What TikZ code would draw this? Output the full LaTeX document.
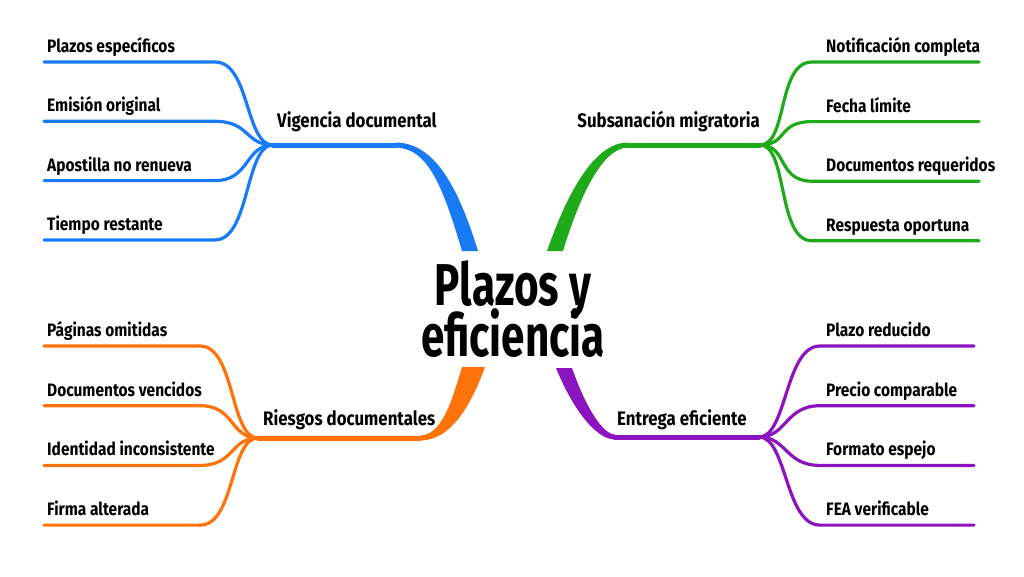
\documentclass[tikz,border=0pt]{standalone}
\usepackage{fontspec}
\setmainfont{Fira Sans}
\newfontfamily\leaffont[FakeStretch=0.86]{Fira Sans}
\newfontfamily\titlefont[FakeStretch=0.716]{Fira Sans}
\definecolor{vblue}{RGB}{24,122,245}
\definecolor{sgreen}{RGB}{30,170,25}
\definecolor{rorange}{RGB}{255,115,10}
\definecolor{epurple}{RGB}{140,20,190}
\tikzset{
    leaf/.style={font={\leaffont\bfseries\fontsize{18}{20}\selectfont}, anchor=base west, inner sep=0pt},
    branch/.style={leaf, font={\leaffont\bfseries\fontsize{19.6}{22}\selectfont}},
    title/.style={font={\titlefont\bfseries\fontsize{59}{59}\selectfont}, anchor=base, inner sep=0pt},
    twig/.style={line width=3.2pt, line cap=round},
    trunk/.style={line width=5pt, line cap=round},
}

\begin{document}
\begin{tikzpicture}[x=1pt,y=-1pt]
    \useasboundingbox (0,0) rectangle (1024,576);
    \node[title] (plazos) at (513,305) {Plazos y};
    \node[title] (eficiencia) at (513,356) {eficiencia};

    \coordinate (vigj) at (273,145);
    \coordinate (vigt) at (395,145);
    \node[branch] (vigencia) at (277,127) {Vigencia documental};
    \draw[trunk,vblue] (vigj) -- (vigt);
    \fill[vblue] (395,142.5) .. controls (433,142.5) and (457,183) .. (478,251)
        -- (462,251) .. controls (443,187) and (428,147.5) .. (395,147.5) -- cycle;
    \foreach \t [count=\i] in {Plazos específicos,Emisión original,Apostilla no renueva,Tiempo restante}{
        \pgfmathsetmacro\y{62+59.3*(\i-1)}
        \node[leaf] (vig\i) at (47,\y-9.5) {\t};
        \coordinate (vig\i a) at (44,\y);
        \coordinate (vig\i b) at (215,\y);
        \draw[twig,vblue] (vig\i a) -- (vig\i b) .. controls +(35,0) and +(-28,0) .. (vigj);
    }

    \coordinate (subj) at (760,145);
    \coordinate (subt) at (628,145);
    \node[branch,anchor=base east] (subsanacion) at (760,127) {Subsanación migratoria};
    \draw[trunk,sgreen] (subj) -- (subt);
    \fill[sgreen] (628,142.5) .. controls (597,142.5) and (570,185) .. (547,251)
        -- (563,251) .. controls (580,195) and (603,147.5) .. (628,147.5) -- cycle;
    \foreach \t [count=\i] in {Notificación completa,Fecha límite,Documentos requeridos,Respuesta oportuna}{
        \pgfmathsetmacro\y{62+59.6*(\i-1)}
        \node[leaf] (sub\i) at (826,\y-9.5) {\t};
        \coordinate (sub\i a) at (979,\y);
        \coordinate (sub\i b) at (812,\y);
        \draw[twig,sgreen] (sub\i a) -- (sub\i b) .. controls +(-35,0) and +(28,0) .. (subj);
    }

    \coordinate (riej) at (258,438);
    \coordinate (riet) at (420,438);
    \node[branch] (riesgos) at (263,425) {Riesgos documentales};
    \draw[trunk,rorange] (riej) -- (riet);
    \fill[rorange] (420,440.5) .. controls (450,440.5) and (470,408) .. (485,367)
        -- (462,367) .. controls (452,400) and (442,435.5) .. (420,435.5) -- cycle;
    \foreach \t [count=\i] in {Páginas omitidas,Documentos vencidos,Identidad inconsistente,Firma alterada}{
        \pgfmathsetmacro\y{346+59.7*(\i-1)}
        \node[leaf] (rie\i) at (47,\y-9.5) {\t};
        \coordinate (rie\i a) at (44,\y);
        \coordinate (rie\i b) at (200,\y);
        \draw[twig,rorange] (rie\i a) -- (rie\i b) .. controls +(35,0) and +(-28,0) .. (riej);
    }

    \coordinate (entj) at (759,437);
    \coordinate (entt) at (615,437);
    \node[branch] (entrega) at (617,425) {Entrega eficiente};
    \draw[trunk,epurple] (entj) -- (entt);
    \fill[epurple] (615,439.5) .. controls (597,439.5) and (574,412) .. (556,368)
        -- (572,368) .. controls (586,408) and (603,434.5) .. (615,434.5) -- cycle;
    \foreach \t [count=\i] in {Plazo reducido,Precio comparable,Formato espejo,FEA verificable}{
        \pgfmathsetmacro\y{346+59.7*(\i-1)}
        \node[leaf] (ent\i) at (826,\y-9.5) {\t};
        \coordinate (ent\i a) at (974,\y);
        \coordinate (ent\i b) at (820,\y);
        \draw[twig,epurple] (ent\i a) -- (ent\i b) .. controls +(-35,0) and +(28,0) .. (entj);
    }
\end{tikzpicture}
\end{document}
